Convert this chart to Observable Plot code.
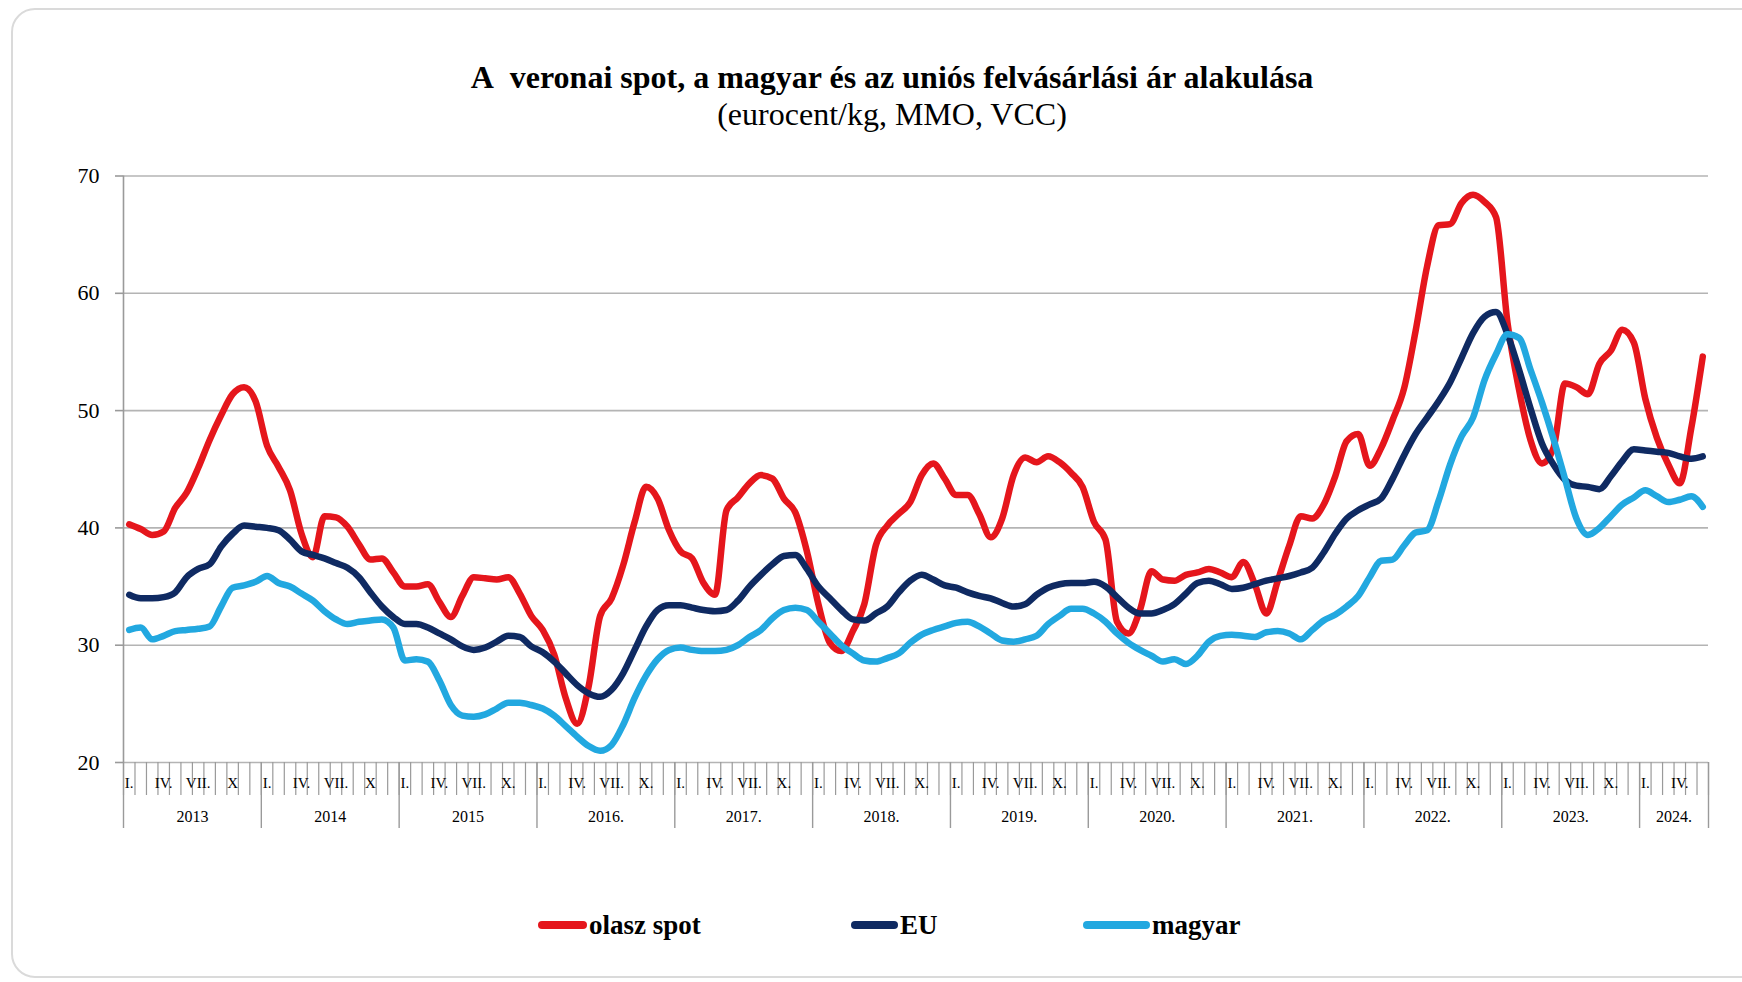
<!DOCTYPE html>
<html>
<head>
<meta charset="utf-8">
<script src="https://cdn.jsdelivr.net/npm/d3@7"></script>
<script src="https://cdn.jsdelivr.net/npm/@observablehq/plot@0.6"></script>
<style>
  html, body { margin: 0; padding: 0; background: #fff; }
  #wrap { position: relative; width: 1742px; height: 982px; overflow: hidden; font-family: "Liberation Serif", "Times New Roman", serif; }
  #card { position: absolute; left: 11px; top: 8px; width: 1770px; height: 970px; border: 2px solid #dadada; border-radius: 24px; box-sizing: border-box; }
  .title { position: absolute; left: 42px; width: 1700px; text-align: center; color: #000; white-space: nowrap; }
  #t1 { top: 57px; font-size: 32px; font-weight: bold; line-height: 40px; }
  #t2 { top: 94px; font-size: 32px; line-height: 40px; }
  #chart { position: absolute; left: 0; top: 140px; }
  .leg { position: absolute; top: 907px; height: 36px; display: flex; align-items: center; font-weight: bold; font-size: 27px; color: #000; }
  .sw { display: inline-block; height: 8px; border-radius: 4px; margin-right: 2px; }
</style>
</head>
<body>
<div id="wrap">
  <div id="card"></div>
  <div class="title" id="t1">A&nbsp; veronai spot, a magyar és az uniós felvásárlási ár alakulása</div>
  <div class="title" id="t2">(eurocent/kg, MMO, VCC)</div>
  <div id="chart"></div>
  <div id="legend"></div>
</div>
<script>
// ---- data ----
const years = [2013, 2014, 2015, 2016, 2017, 2018, 2019, 2020, 2021, 2022, 2023, 2024];
const yearLabels = ["2013", "2014", "2015", "2016.", "2017.", "2018.", "2019.", "2020.", "2021.", "2022.", "2023.", "2024."];
const monthsPerYear = [12, 12, 12, 12, 12, 12, 12, 12, 12, 12, 12, 6];
const quarterMonths = [0, 3, 6, 9];
const quarterLabels = ["I.", "IV.", "VII.", "X."];
const quarterLabelsEarly = ["I.", "IV.", "VII.", "X"]; // 2013, 2014
const yTicks = [20, 30, 40, 50, 60, 70];
const seriesNames = ["olasz spot", "EU", "magyar"];
const seriesColors = ["#e5161c", "#0f2a62", "#22a8e0"];

const olasz = [
  40.3, 39.9, 39.4, 39.7, 41.7, 43.0, 45.1, 47.5, 49.6, 51.4, 52.0, 50.8,
  47.0, 45.2, 43.2, 39.5, 37.5, 41.0, 40.9, 40.1, 38.6, 37.3, 37.4, 36.2,
  35.0, 35.0, 35.2, 33.7, 32.4, 34.2, 35.8, 35.7, 35.6, 35.8, 34.4, 32.5,
  31.3, 29.2, 25.5, 23.3, 26.5, 32.5, 34.0, 36.8, 40.5, 43.5, 42.5, 39.8,
  38.0, 37.4, 35.3, 34.3, 41.5, 42.6, 43.8, 44.5, 44.2, 42.5, 41.3, 38.0,
  33.5, 30.2, 29.5, 31.2, 33.5, 38.5, 40.2, 41.2, 42.2, 44.5, 45.5, 44.2,
  42.8, 42.8, 41.2, 39.2, 40.8, 44.5, 46.0, 45.6, 46.1, 45.6, 44.7, 43.5,
  40.5, 39.0, 32.0, 31.0, 33.0, 36.3, 35.6, 35.5, 36.0, 36.2, 36.5, 36.2,
  35.8, 37.1, 35.2, 32.7, 35.5, 38.5, 41.0, 40.8, 42.0, 44.4, 47.4, 48.0,
  45.3, 46.8, 49.2, 51.9, 56.8, 62.3, 65.8, 65.9, 67.7, 68.4, 67.8, 66.5,
  57.5, 51.8, 47.5, 45.5, 46.8, 52.3, 52.0, 51.4, 54.0, 55.1, 56.9, 55.8,
  51.0, 47.7, 45.4, 43.8, 48.5, 54.6
];
const eu = [
  34.3, 34.0, 34.0, 34.1, 34.5, 35.8, 36.5, 36.9, 38.4, 39.5, 40.2, 40.1,
  40.0, 39.8, 39.0, 38.0, 37.7, 37.4, 37.0, 36.6, 35.8, 34.5, 33.3, 32.4,
  31.8, 31.8, 31.5, 31.0, 30.5, 29.9, 29.6, 29.8, 30.3, 30.8, 30.7, 29.9,
  29.4, 28.6, 27.6, 26.6, 25.9, 25.6, 26.2, 27.6, 29.6, 31.6, 33.0, 33.4,
  33.4, 33.2, 33.0, 32.9, 33.0, 33.8, 35.0, 36.0, 36.9, 37.6, 37.7, 36.5,
  35.0, 34.0, 33.0, 32.2, 32.1, 32.7, 33.3, 34.5, 35.5, 36.0, 35.6, 35.1,
  34.9, 34.5, 34.2, 34.0, 33.6, 33.3, 33.5, 34.3, 34.9, 35.2, 35.3, 35.3,
  35.4, 35.0, 34.1, 33.2, 32.7, 32.7, 33.0, 33.5, 34.4, 35.3, 35.5, 35.2,
  34.8, 34.9, 35.2, 35.5, 35.7, 35.9, 36.2, 36.6, 37.9, 39.5, 40.8, 41.5,
  42.0, 42.5, 44.2, 46.2, 48.0, 49.4, 50.8, 52.4, 54.5, 56.6, 58.0, 58.4,
  56.5, 53.5, 50.2, 47.2, 45.4, 44.1, 43.6, 43.5, 43.3, 44.4, 45.7, 46.7,
  46.6, 46.5, 46.4, 46.1, 45.9, 46.1
];
const magyar = [
  31.3, 31.5, 30.5, 30.8, 31.2, 31.3, 31.4, 31.6, 33.3, 34.9, 35.1, 35.4,
  35.9, 35.3, 35.0, 34.4, 33.8, 32.9, 32.2, 31.8, 32.0, 32.1, 32.2, 31.5,
  28.7, 28.8, 28.6, 27.0, 24.9, 24.0, 23.9, 24.1, 24.6, 25.1, 25.1, 24.9,
  24.6, 24.0, 23.1, 22.2, 21.4, 21.0, 21.5, 23.2, 25.5, 27.4, 28.8, 29.6,
  29.8, 29.6, 29.5, 29.5, 29.6, 30.0, 30.7, 31.3, 32.3, 33.0, 33.2, 33.0,
  32.0, 31.0, 30.0, 29.3, 28.7, 28.6, 28.9, 29.3, 30.2, 30.9, 31.3, 31.6,
  31.9, 32.0, 31.6, 31.0, 30.4, 30.3, 30.5, 30.8, 31.8, 32.5, 33.1, 33.1,
  32.7, 32.0, 31.0, 30.2, 29.6, 29.1, 28.6, 28.8, 28.4, 29.1, 30.3, 30.8,
  30.9, 30.8, 30.7, 31.1, 31.2, 31.0, 30.5, 31.3, 32.1, 32.6, 33.3, 34.2,
  35.8, 37.2, 37.3, 38.5, 39.6, 39.8, 42.3, 45.4, 47.8, 49.4, 52.6, 54.8,
  56.5, 56.2, 53.5, 50.7, 47.6, 44.2, 40.8, 39.4, 40.0, 41.0, 42.0, 42.6,
  43.2, 42.7, 42.2, 42.4, 42.7, 41.8
];

// ---- derived tables ----
const seriesValues = [olasz, eu, magyar];
const nMonths = d3.sum(monthsPerYear);
const rows = [];
seriesValues.forEach((vals, s) => vals.forEach((v, i) => rows.push({pos: i + 0.5, value: v, series: seriesNames[s]})));

const yearStarts = [];
let acc = 0;
monthsPerYear.forEach(n => { yearStarts.push(acc); acc += n; });
const yearBoundaries = [...yearStarts, nMonths];
const monthBoundaries = d3.range(0, nMonths + 1);
const yearLabelRows = years.map((y, k) => ({pos: yearStarts[k] + monthsPerYear[k] / 2, label: yearLabels[k]}));
const monthLabelRows = [];
years.forEach((y, k) => {
  const labs = k < 2 ? quarterLabelsEarly : quarterLabels;
  quarterMonths.forEach((m, q) => {
    if (m < monthsPerYear[k]) monthLabelRows.push({pos: yearStarts[k] + m + 0.5, label: labs[q]});
  });
});

const gray = "#9a9a9a";
const font = "Liberation Serif";

const chart = Plot.plot({
  width: 1742,
  height: 720,
  marginLeft: 123,
  marginRight: 34,
  marginTop: 35.5,
  marginBottom: 98,
  style: {fontFamily: font, background: "transparent", overflow: "visible"},
  x: {domain: [0, nMonths], axis: null},
  y: {domain: [20, 70], axis: null},
  color: {domain: seriesNames, range: seriesColors},
  marks: [
    Plot.gridY(yTicks, {stroke: "#b4b4b4", strokeOpacity: 1, strokeWidth: 1.6}),
    Plot.ruleX([0], {stroke: gray, strokeWidth: 1.6}),
    Plot.axisY(yTicks, {label: null, tickSize: 8, tickPadding: 16, stroke: gray, strokeWidth: 1.6, fill: "#000", fontSize: 22, fontFamily: font}),
    Plot.axisX(monthBoundaries, {label: null, tickSize: 33, stroke: gray, strokeWidth: 1.2, fill: "none"}),
    Plot.axisX(yearBoundaries, {label: null, tickSize: 66, stroke: gray, strokeWidth: 1.4, fill: "none"}),
    Plot.text(monthLabelRows, {x: "pos", text: "label", frameAnchor: "bottom", dy: 25, fontSize: 15, fontFamily: font, fill: "#000"}),
    Plot.text(yearLabelRows, {x: "pos", text: "label", frameAnchor: "bottom", dy: 59, fontSize: 16, fontFamily: font, fill: "#000"}),
    Plot.line(rows, {x: "pos", y: "value", z: "series", stroke: "series", strokeWidth: 6.5, curve: "monotone-x", strokeLinejoin: "round", strokeLinecap: "round"})
  ]
});
document.getElementById("chart").appendChild(chart);

// ---- legend ----
const legendLefts = [538, 851, 1083];
const swatchWidths = [49, 47, 67];
const legend = document.getElementById("legend");
seriesNames.forEach((name, i) => {
  const item = document.createElement("div");
  item.className = "leg";
  item.style.left = legendLefts[i] + "px";
  const sw = document.createElement("span");
  sw.className = "sw";
  sw.style.width = swatchWidths[i] + "px";
  sw.style.background = seriesColors[i];
  const tx = document.createElement("span");
  tx.textContent = name;
  item.appendChild(sw);
  item.appendChild(tx);
  legend.appendChild(item);
});
</script>
</body>
</html>
